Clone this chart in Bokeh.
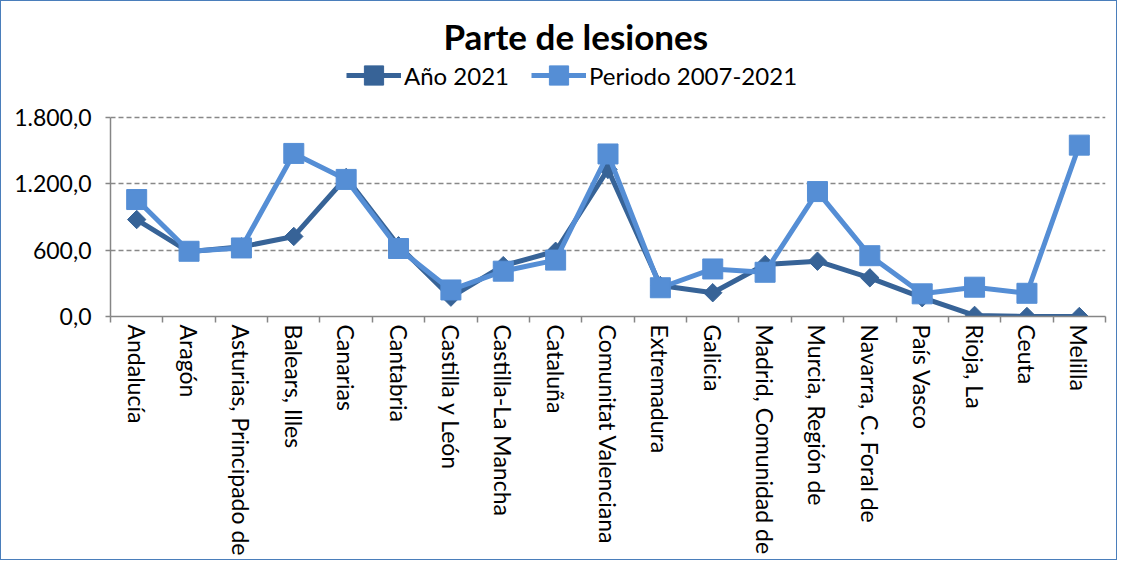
import math
from bokeh.plotting import figure
from bokeh.models import Range1d, FixedTicker, Legend, LegendItem, ColumnDataSource
from bokeh.embed import file_html
from bokeh.resources import INLINE

categories = ["Andalucía", "Aragón", "Asturias, Principado de", "Balears, Illes", "Canarias",
              "Cantabria", "Castilla y León", "Castilla-La Mancha", "Cataluña",
              "Comunitat Valenciana", "Extremadura", "Galicia", "Madrid, Comunidad de",
              "Murcia, Región de", "Navarra, C. Foral de", "País Vasco", "Rioja, La",
              "Ceuta", "Melilla"]
anio_2021 = [877, 585, 630, 724, 1257, 640, 175, 460, 590, 1330, 280, 215, 470,
             500, 350, 170, 10, 0, 0]
periodo_2007_2021 = [1058, 590, 620, 1475, 1240, 615, 240, 410, 510, 1470, 260, 430, 400,
                     1130, 550, 205, 265, 210, 1550]
y_ticks = [0, 600, 1200, 1800]
y_tick_labels = ["0,0", "600,0", "1.200,0", "1.800,0"]
y_axis_max = 1800

FONT = "Lato"
DARK = "#376397"
LIGHT = "#558ED5"
AXIS = "#868686"

# layout (pixels, page coordinates; canvas starts 1px in because of the border)
W, H = 1117, 560
frame_left, frame_right = 110, 1105
axis_top_px, axis_bottom_px = 117, 316
frame_top = 56
px_per_unit = (axis_bottom_px - axis_top_px) / y_axis_max
y_top = y_axis_max + (axis_top_px - frame_top) / px_per_unit

xpos = [i + 0.5 for i in range(len(categories))]
src = ColumnDataSource(dict(x=xpos, a=anio_2021, p=periodo_2007_2021))

p = figure(width=W, height=H, output_backend="svg", toolbar_location=None,
           x_range=Range1d(0, len(categories)), y_range=Range1d(0, y_top),
           min_border_left=frame_left - 1, min_border_right=W + 1 - frame_right,
           min_border_top=frame_top - 1, min_border_bottom=H + 1 - axis_bottom_px)
p.outline_line_color = None
p.background_fill_color = "white"
p.border_fill_color = "white"
p.styles = {"border": "1px solid #4A7EBB"}

p.title.text = "Parte de lesiones"
p.title.text_font = FONT
p.title.text_font_size = "35px"
p.title.text_font_style = "bold"
p.title.align = "left"
p.title.offset = 443 - frame_left
p.title.standoff = 0
p.title.text_color = "black"

# axes
p.xgrid.visible = False
p.ygrid.grid_line_color = "#888888"
p.ygrid.grid_line_dash = "5 3"
p.ygrid.grid_line_width = 1.5

p.yaxis.bounds = (0, y_axis_max)
p.yaxis.ticker = FixedTicker(ticks=y_ticks)
p.yaxis.major_label_overrides = {t: l for t, l in zip(y_ticks, y_tick_labels)}
p.yaxis.axis_line_color = AXIS
p.yaxis.axis_line_width = 1.5
p.yaxis.major_tick_line_color = AXIS
p.yaxis.major_tick_line_width = 1.5
p.yaxis.major_tick_out = 5
p.yaxis.major_tick_in = 0
p.yaxis.minor_tick_line_color = None
p.yaxis.major_label_text_font = FONT
p.yaxis.major_label_text_font_size = "23px"
p.yaxis.major_label_text_color = "black"
p.yaxis.major_label_standoff = 14

p.xaxis.ticker = FixedTicker(ticks=xpos, minor_ticks=list(range(len(categories) + 1)))
p.xaxis.major_label_overrides = {x: c for x, c in zip(xpos, categories)}
p.xaxis.major_label_orientation = "vertical"
p.xaxis.axis_line_color = AXIS
p.xaxis.axis_line_width = 1.5
p.xaxis.major_tick_line_color = None
p.xaxis.minor_tick_line_color = AXIS
p.xaxis.minor_tick_line_width = 1.5
p.xaxis.minor_tick_out = 6
p.xaxis.minor_tick_in = 0
p.xaxis.major_label_text_font = FONT
p.xaxis.major_label_text_font_size = "23px"
p.xaxis.major_label_text_color = "black"
p.xaxis.major_label_standoff = 2

l1 = p.line("x", "a", source=src, line_color=DARK, line_width=5)
m1 = p.scatter("x", "a", source=src, marker="square", angle=math.pi / 4, size=13,
               fill_color=DARK, line_color=DARK)
l2 = p.line("x", "p", source=src, line_color=LIGHT, line_width=5)
m2 = p.scatter("x", "p", source=src, marker="square", size=20, fill_color=LIGHT, line_color=LIGHT)

legend_center_y = 73
glyph_h = 48
legend = Legend(items=[LegendItem(label="Año 2021", renderers=[l1, m1]),
                       LegendItem(label="Periodo 2007-2021", renderers=[l2, m2])],
                orientation="horizontal",
                location=(348 - frame_left - 2, axis_bottom_px - (legend_center_y + glyph_h / 2 + 2)))
legend.label_text_font = FONT
legend.label_text_font_size = "24px"
legend.label_text_color = "black"
legend.glyph_width = 55
legend.glyph_height = glyph_h
legend.spacing = 22
legend.label_standoff = 3
legend.border_line_color = None
legend.background_fill_alpha = 0
legend.padding = 2
legend.margin = 0
p.add_layout(legend, "center")

open("out.html", "w").write(file_html(p, INLINE))
